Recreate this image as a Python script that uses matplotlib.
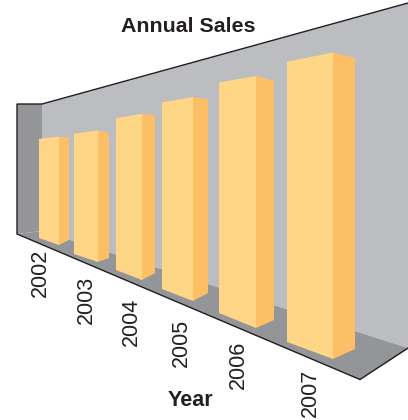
import matplotlib
matplotlib.use('Agg')
import matplotlib.pyplot as plt
from matplotlib.patches import Polygon

plt.rcParams['font.family'] = ['Liberation Sans', 'DejaVu Sans']

# data (percent of wall height at the bar)
years = ['2002', '2003', '2004', '2005', '2006', '2007']
sales = [79, 82, 89, 94, 99, 102]

# layout in pixels: bar footprint on the floor
left_x = [39, 74, 116, 162, 219, 287]
front_x = [59, 98, 142, 193, 256, 333]
right_x = [69, 109, 155, 208, 274, 355]
left_base = [238, 254, 270, 289, 313, 342]
front_base = [245, 262, 280, 301, 328, 359]
right_base = [240, 258, 273, 293, 320, 349]
label_x = [40, 86, 131.5, 181, 238, 310]
label_y = [273, 299.5, 321.5, 342.5, 365, 393]

light = '#FFD685'
side = '#FDBF65'
wall = '#BCBDC0'
dark = '#939598'
ink = '#231F20'

fig = plt.figure(figsize=(4.08, 4.2), dpi=100)
ax = fig.add_axes([0, 0, 1, 1])
ax.set_xlim(0, 408)
ax.set_ylim(420, 0)
ax.axis('off')

# room
ax.add_patch(Polygon([(42, 104), (408, 3), (408, 348), (42, 231)], fc=wall, ec='none'))
ax.add_patch(Polygon([(17, 104), (42, 104), (42, 231), (17, 234)], fc=dark, ec='none'))
ax.add_patch(Polygon([(17, 234), (42, 231), (408, 348), (408, 349), (360, 380)], fc=dark, ec='none'))
ax.plot([408, 42, 17, 17, 360, 408], [3, 104, 104, 234, 379.5, 348], color=ink, lw=1.0,
        solid_joinstyle='miter')

# perspective: wall height grows along x, bars shrink a little going back
def wall_height(x):
    return 127 + 0.596 * (x - 42)

for i, val in enumerate(sales):
    h = val / 100 * wall_height(front_x[i])
    top_f = front_base[i] - h
    top_l = left_base[i] - 0.915 * h
    top_r = right_base[i] - 0.95 * h
    # front face
    ax.add_patch(Polygon([(left_x[i], left_base[i]), (front_x[i], front_base[i]),
                          (front_x[i], top_f), (left_x[i], top_l)], fc=light, ec='none'))
    # side face
    ax.add_patch(Polygon([(front_x[i], front_base[i]), (right_x[i], right_base[i]),
                          (right_x[i], top_r), (front_x[i], top_f)], fc=side, ec='none'))
    ax.text(label_x[i], label_y[i], years[i], rotation=90, ha='center', va='center',
            fontsize=15.5, color=ink)

ax.text(188, 27, 'Annual Sales', ha='center', va='center', fontsize=15.4, fontweight='bold', color=ink)
ax.text(190.5, 401, 'Year', ha='center', va='center', fontsize=15.5, fontweight='bold', color=ink)

fig.savefig('out.png', dpi=100)
